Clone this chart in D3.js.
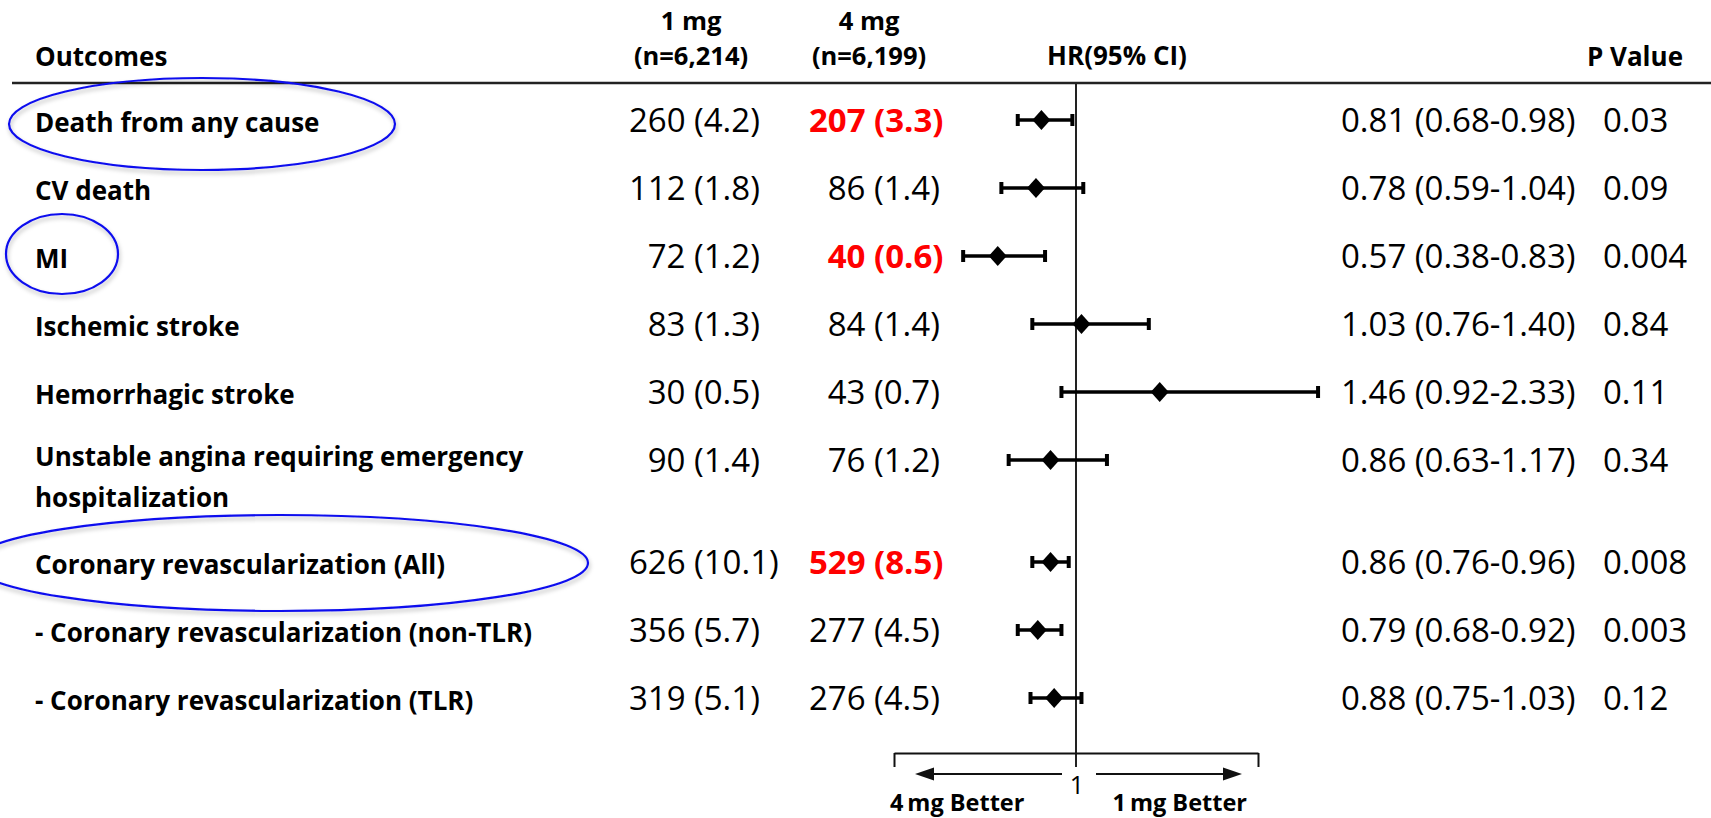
<!DOCTYPE html>
<html>
<head>
<meta charset="utf-8">
<script src="https://cdn.jsdelivr.net/npm/d3@7/dist/d3.min.js"></script>
<style>
  html, body { margin: 0; padding: 0; background: #ffffff; }
  svg { display: block; }
  text { font-family: "Open Sans", "Noto Sans", sans-serif; fill: #000; }
</style>
</head>
<body>
<script>
// ---------------- data ----------------
const outcomes = [
  "Death from any cause",
  "CV death",
  "MI",
  "Ischemic stroke",
  "Hemorrhagic stroke",
  "Unstable angina requiring emergency\nhospitalization",
  "Coronary revascularization (All)",
  "- Coronary revascularization (non-TLR)",
  "- Coronary revascularization (TLR)"
];
const groups = ["1 mg", "4 mg"];
const groupN = ["(n=6,214)", "(n=6,199)"];
const events1mg = [260, 112, 72, 83, 30, 90, 626, 356, 319];
const pct1mg    = [4.2, 1.8, 1.2, 1.3, 0.5, 1.4, 10.1, 5.7, 5.1];
const events4mg = [207, 86, 40, 84, 43, 76, 529, 277, 276];
const pct4mg    = [3.3, 1.4, 0.6, 1.4, 0.7, 1.2, 8.5, 4.5, 4.5];
const highlight4mg = [true, false, true, false, false, false, true, false, false];
const hr   = [0.81, 0.78, 0.57, 1.03, 1.46, 0.86, 0.86, 0.79, 0.88];
const hrLo = [0.68, 0.59, 0.38, 0.76, 0.92, 0.63, 0.76, 0.68, 0.75];
const hrHi = [0.98, 1.04, 0.83, 1.40, 2.33, 1.17, 0.96, 0.92, 1.03];
const pValues = ["0.03", "0.09", "0.004", "0.84", "0.11", "0.34", "0.008", "0.003", "0.12"];
const axisDomain = [0, 2];
const refValue = 1;
const axisLabels = ["4\u2009mg Better", "1\u2009mg Better"];
const circledRows = [0, 2, 6];

// ---------------- layout ----------------
const W = 1711, H = 818;
const svg = d3.select("body").append("svg").attr("width", W).attr("height", H);

const defs = svg.append("defs");
const f = defs.append("filter").attr("id", "shadow").attr("x", "-10%").attr("y", "-20%").attr("width", "120%").attr("height", "150%");
f.append("feDropShadow").attr("dx", 1).attr("dy", 3).attr("stdDeviation", 2).attr("flood-color", "#000").attr("flood-opacity", 0.28);

const x = d3.scaleLinear().domain(axisDomain).range([894, 1258]);

// row slots: a two-line label pushes the next row down by half a row
const slots = [];
let s = 0;
outcomes.forEach((o, i) => {
  slots.push(s);
  s += 1 + 0.5 * (o.split("\n").length - 1);
});
const y = d3.scaleLinear().domain([0, 1]).range([120, 188]);

const rows = outcomes.map((o, i) => ({
  label: o, slot: slots[i],
  n1: events1mg[i], p1: pct1mg[i], n4: events4mg[i], p4: pct4mg[i],
  hl: highlight4mg[i], hr: hr[i], lo: hrLo[i], hi: hrHi[i], p: pValues[i]
}));

const fmt1 = d3.format(".1f"), fmt2 = d3.format(".2f");

// ---------------- header ----------------
const hdr = svg.append("g").attr("font-weight", "bold").attr("font-size", 26);
hdr.append("text").attr("x", 35).attr("y", 66).text("Outcomes");
const colCenters = [691, 869];
groups.forEach((g, i) => {
  hdr.append("text").attr("x", colCenters[i]).attr("y", 30).attr("font-size", 25.5)
    .attr("text-anchor", "middle").text(g);
  hdr.append("text").attr("x", colCenters[i]).attr("y", 65).attr("font-size", 25.5)
    .attr("text-anchor", "middle").text(groupN[i]);
});
hdr.append("text").attr("x", 1117).attr("y", 65).attr("text-anchor", "middle").text("HR(95% CI)");
hdr.append("text").attr("x", 1683).attr("y", 66).attr("text-anchor", "end").text("P Value");

svg.append("line").attr("x1", 12).attr("x2", W).attr("y1", 83).attr("y2", 83)
  .attr("stroke", "#222").attr("stroke-width", 2.5);

// ---------------- reference line & bottom axis ----------------
svg.append("line").attr("x1", x(refValue)).attr("x2", x(refValue)).attr("y1", 83).attr("y2", 767)
  .attr("stroke", "#222").attr("stroke-width", 2);

const axisY = 753;
const axisG = svg.append("g").attr("transform", `translate(0,${axisY})`)
  .call(d3.axisBottom(x).tickValues(axisDomain).tickSize(14).tickSizeOuter(0).tickFormat(""));
axisG.select(".domain").attr("stroke", "#111").attr("stroke-width", 2);
axisG.selectAll(".tick line").attr("stroke", "#111").attr("stroke-width", 2);

const arrowY = 774;
function arrow(x1, x2) {
  const dir = Math.sign(x2 - x1);
  svg.append("line").attr("x1", x1).attr("x2", x2 - dir * 10).attr("y1", arrowY).attr("y2", arrowY)
    .attr("stroke", "#111").attr("stroke-width", 2);
  svg.append("path")
    .attr("d", `M${x2},${arrowY} L${x2 - dir * 19},${arrowY - 6.5} L${x2 - dir * 19},${arrowY + 6.5} Z`)
    .attr("fill", "#111");
}
arrow(x(refValue) - 14, x(axisDomain[0]) + 21);
arrow(x(refValue) + 20, x(axisDomain[1]) - 16);

svg.append("text").attr("x", x(refValue) + 1).attr("y", 794).attr("text-anchor", "middle")
  .attr("font-size", 25).text(refValue);
svg.append("text").attr("x", x(axisDomain[0]) - 4).attr("y", 811).attr("font-weight", "bold")
  .attr("font-size", 23.5).text(axisLabels[0]);
svg.append("text").attr("x", x(axisDomain[1]) - 11).attr("y", 811).attr("text-anchor", "end")
  .attr("font-weight", "bold").attr("font-size", 23.5).text(axisLabels[1]);

// ---------------- rows ----------------
const rowG = svg.selectAll("g.row").data(rows).join("g").attr("class", "row")
  .attr("transform", d => `translate(0,${y(d.slot)})`);

// labels
rowG.each(function(d) {
  const lines = d.label.split("\n");
  const t = d3.select(this).append("text").attr("x", 35).attr("y", 12 - 6 * (lines.length - 1))
    .attr("font-weight", "bold").attr("font-size", 26);
  lines.forEach((line, k) => {
    t.append("tspan").attr("x", 35).attr("dy", k === 0 ? 0 : 41).text(line);
  });
});

// event columns, aligned on the opening parenthesis
const parenX = [694, 874];
function eventCol(sel, ci, nKey, pKey, boldKey) {
  sel.append("text").attr("x", parenX[ci] - 8.5).attr("y", 12).attr("text-anchor", "end")
    .attr("font-size", 33)
    .attr("font-weight", d => boldKey && d[boldKey] ? "bold" : "normal")
    .style("fill", d => boldKey && d[boldKey] ? "#ff0000" : "#000")
    .text(d => d[nKey]);
  sel.append("text").attr("x", parenX[ci]).attr("y", 12)
    .attr("font-size", 33)
    .attr("font-weight", d => boldKey && d[boldKey] ? "bold" : "normal")
    .style("fill", d => boldKey && d[boldKey] ? "#ff0000" : "#000")
    .text(d => `(${fmt1(d[pKey])})`);
}
eventCol(rowG, 0, "n1", "p1", null);
eventCol(rowG, 1, "n4", "p4", "hl");

// HR text and p value
rowG.append("text").attr("x", 1341).attr("y", 12).attr("font-size", 33)
  .text(d => `${fmt2(d.hr)} (${fmt2(d.lo)}-${fmt2(d.hi)})`);
rowG.append("text").attr("x", 1603).attr("y", 12).attr("font-size", 33)
  .text(d => d.p);

// forest marks
rowG.append("line").attr("x1", d => x(d.lo)).attr("x2", d => x(d.hi)).attr("y1", 0).attr("y2", 0)
  .attr("stroke", "#000").attr("stroke-width", 3.5);
rowG.append("line").attr("x1", d => x(d.lo)).attr("x2", d => x(d.lo)).attr("y1", -6).attr("y2", 6)
  .attr("stroke", "#000").attr("stroke-width", 4);
rowG.append("line").attr("x1", d => x(d.hi)).attr("x2", d => x(d.hi)).attr("y1", -6).attr("y2", 6)
  .attr("stroke", "#000").attr("stroke-width", 4);
rowG.append("path").attr("d", d => {
  const cx = x(d.hr);
  return `M${cx},-10 L${cx + 9},0 L${cx},10 L${cx - 9},0 Z`;
}).attr("fill", "#000");

// ---------------- annotation ellipses ----------------
const ellipseShapes = [
  { cx: 202, dy: 4, rx: 193, ry: 46 },
  { cx: 62, dy: -2, rx: 56, ry: 40 },
  { cx: 280, dy: 1, rx: 308, ry: 48 }
];
circledRows.forEach((ri, k) => {
  const e = ellipseShapes[k];
  svg.append("ellipse").attr("cx", e.cx).attr("cy", y(slots[ri]) + e.dy)
    .attr("rx", e.rx).attr("ry", e.ry)
    .attr("fill", "none").attr("stroke", "#1010ee").attr("stroke-width", 2.2)
    .attr("filter", "url(#shadow)");
});
</script>
</body>
</html>
